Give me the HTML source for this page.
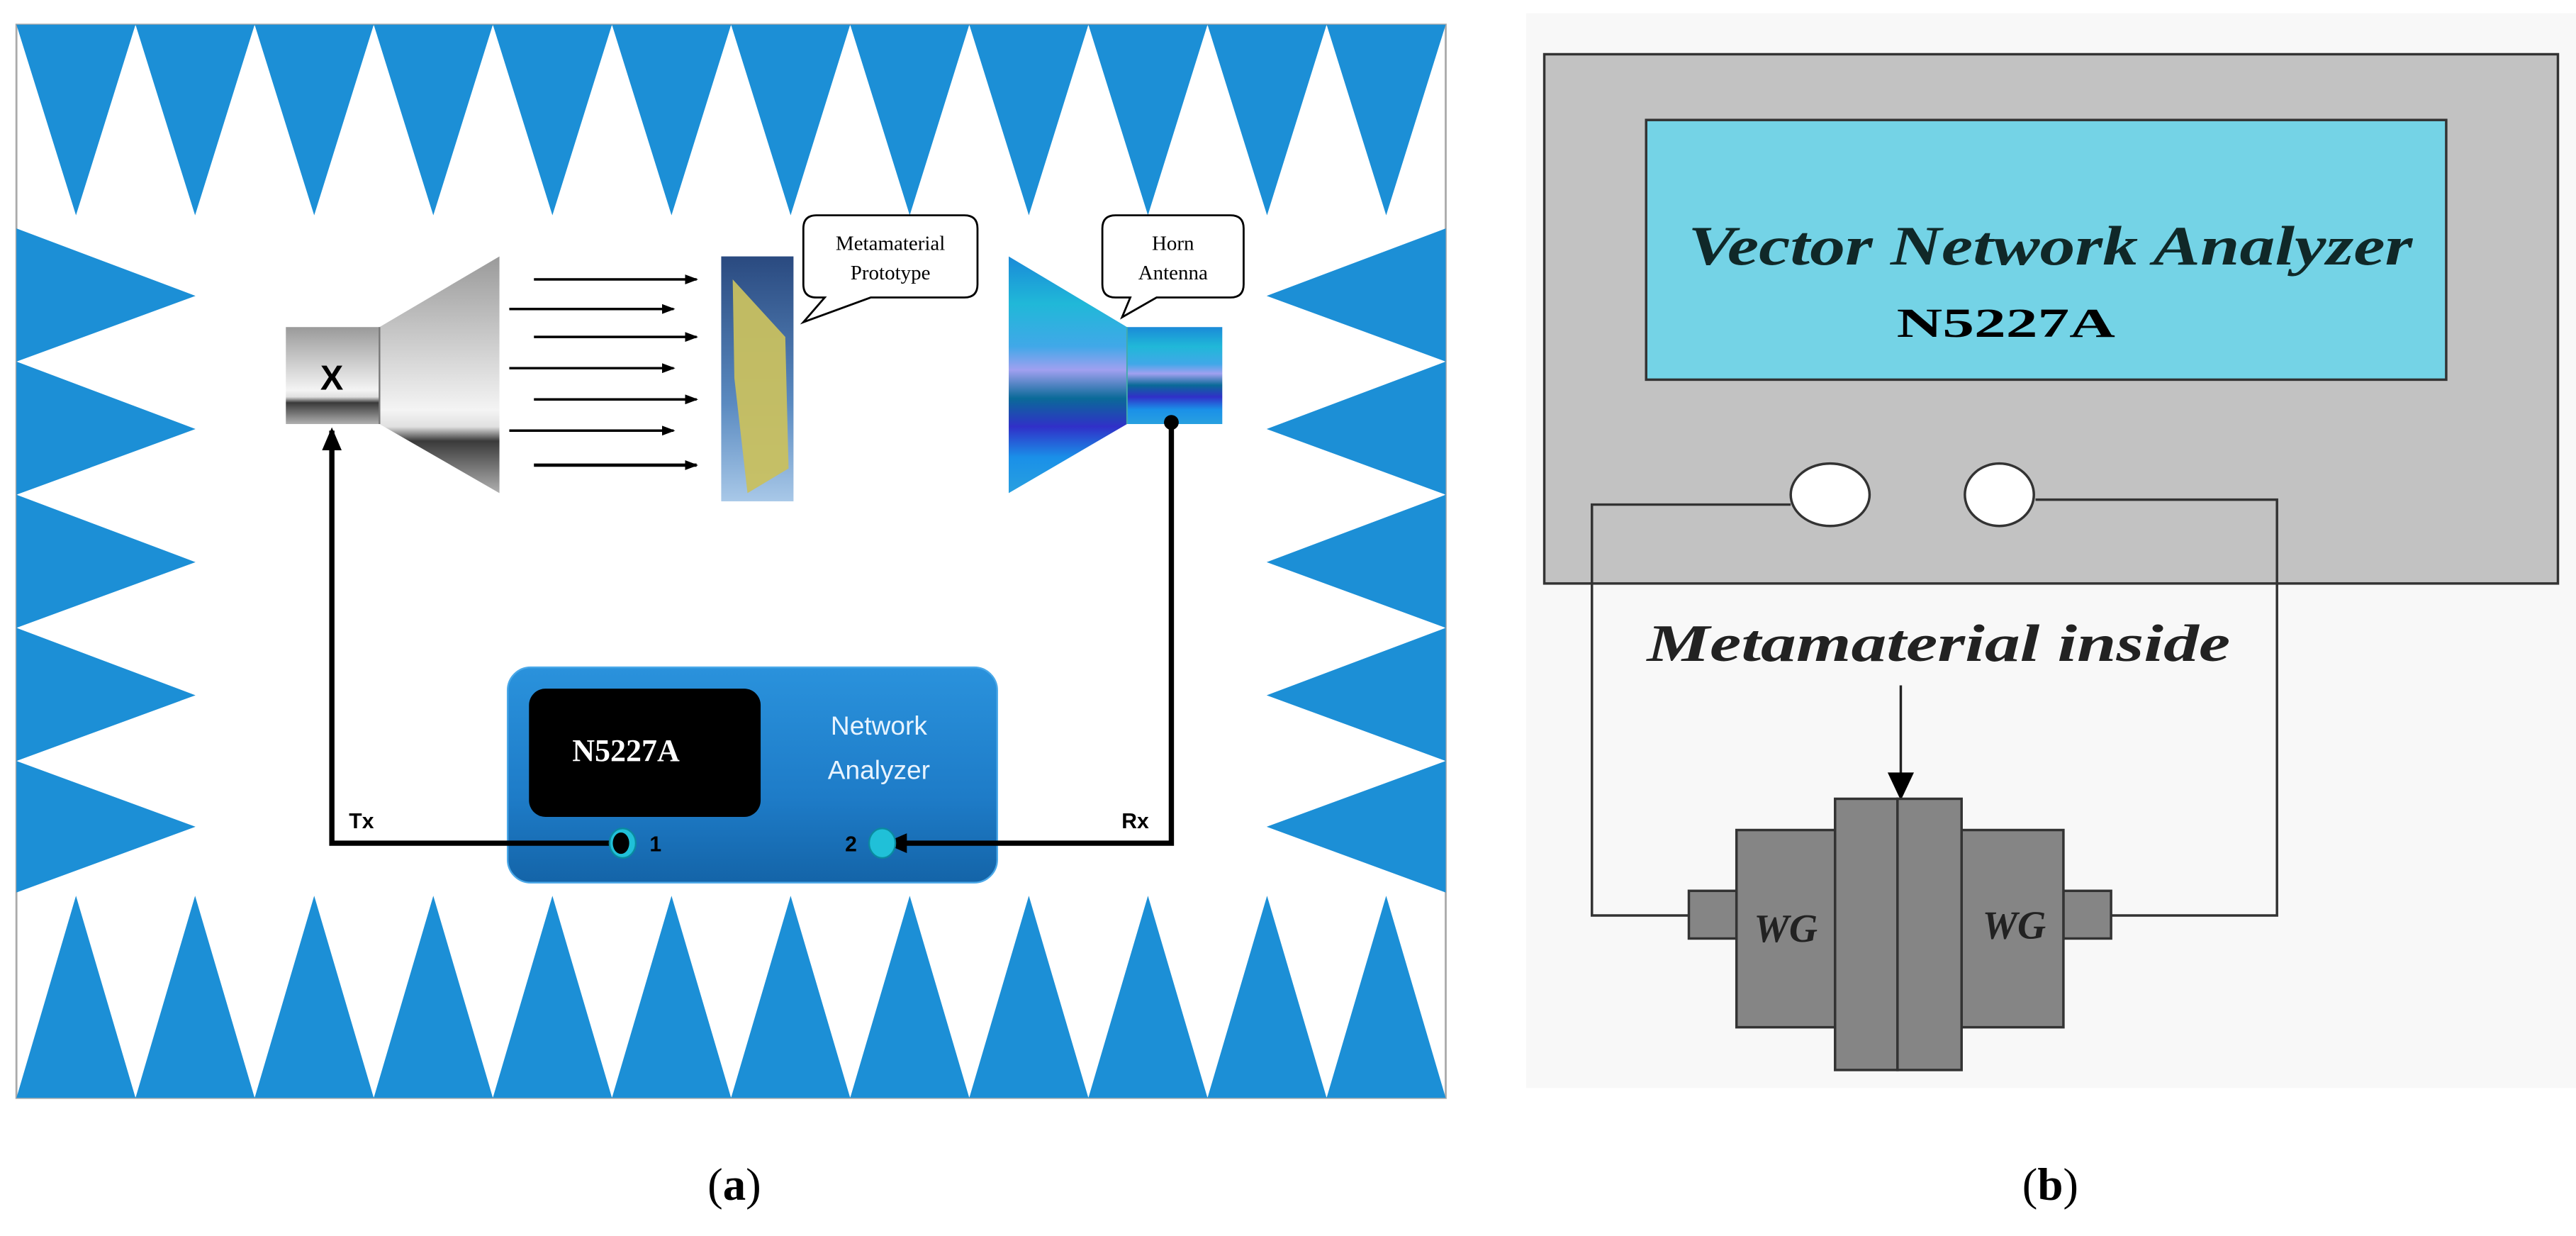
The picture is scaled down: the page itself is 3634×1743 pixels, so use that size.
<!DOCTYPE html>
<html><head><meta charset="utf-8"><style>
html,body{margin:0;padding:0;background:#fff;}
svg{display:block;}
</style></head><body>
<svg width="3634" height="1743" viewBox="0 0 1568 752" preserveAspectRatio="none" xmlns="http://www.w3.org/2000/svg">
<defs>
<linearGradient id="gray" x1="0" y1="0" x2="0" y2="1">
<stop offset="0" stop-color="#9a9a9a"/><stop offset="0.65" stop-color="#f4f4f4"/><stop offset="0.72" stop-color="#e0e0e0"/><stop offset="0.78" stop-color="#3a3a3a"/><stop offset="1" stop-color="#b0b0b0"/>
</linearGradient>
<linearGradient id="blueh" x1="0" y1="0" x2="0" y2="1">
<stop offset="0" stop-color="#1a8ad8"/><stop offset="0.2" stop-color="#20b8d8"/><stop offset="0.38" stop-color="#40a8e8"/><stop offset="0.48" stop-color="#a0a0f0"/><stop offset="0.6" stop-color="#0a6a98"/><stop offset="0.72" stop-color="#3030c8"/><stop offset="0.85" stop-color="#1a90e8"/><stop offset="1" stop-color="#28a0e0"/>
</linearGradient>
<linearGradient id="na" x1="0" y1="0" x2="0" y2="1">
<stop offset="0" stop-color="#2a92dc"/><stop offset="0.6" stop-color="#1e7cc8"/><stop offset="1" stop-color="#1464a8"/>
</linearGradient>
<linearGradient id="meta" x1="0" y1="0" x2="0" y2="1">
<stop offset="0" stop-color="#2a4a80"/><stop offset="0.6" stop-color="#5a8ac0"/><stop offset="1" stop-color="#a8c8e8"/>
</linearGradient>
<marker id="ah" markerWidth="8" markerHeight="6" refX="7" refY="3" orient="auto" markerUnits="userSpaceOnUse"><path d="M0,0 L8,3 L0,6 z" fill="#000"/></marker>
<marker id="ahb" markerWidth="14" markerHeight="12" refX="12" refY="6" orient="auto" markerUnits="userSpaceOnUse"><path d="M0,0 L14,6 L0,12 z" fill="#000"/></marker>
</defs>

<rect x="10" y="15" width="870" height="653" fill="#fff" stroke="#aaa" stroke-width="1.2"/>
<g fill="#1c8fd6">
<path d="M10,15 L82.5,15 L46.25,131z M82.5,15 L155,15 L118.75,131z M155,15 L227.5,15 L191.25,131z M227.5,15 L300,15 L263.75,131z M300,15 L372.5,15 L336.25,131z M372.5,15 L445,15 L408.75,131z M445,15 L517.5,15 L481.25,131z M517.5,15 L590,15 L553.75,131z M590,15 L662.5,15 L626.25,131z M662.5,15 L735,15 L698.75,131z M735,15 L807.5,15 L771.25,131z M807.5,15 L880,15 L843.75,131z"/>
<path d="M10,668 L82.5,668 L46.25,545z M82.5,668 L155,668 L118.75,545z M155,668 L227.5,668 L191.25,545z M227.5,668 L300,668 L263.75,545z M300,668 L372.5,668 L336.25,545z M372.5,668 L445,668 L408.75,545z M445,668 L517.5,668 L481.25,545z M517.5,668 L590,668 L553.75,545z M590,668 L662.5,668 L626.25,545z M662.5,668 L735,668 L698.75,545z M735,668 L807.5,668 L771.25,545z M807.5,668 L880,668 L843.75,545z"/>
<path d="M10,139 L119,180 L10,220z M10,220 L119,261 L10,301z M10,301 L119,342 L10,382z M10,382 L119,423 L10,463z M10,463 L119,503 L10,543z"/>
<path d="M880,139 L771,180 L880,220z M880,220 L771,261 L880,301z M880,301 L771,342 L880,382z M880,382 L771,423 L880,463z M880,463 L771,503 L880,543z"/>
</g>

<rect x="174" y="199" width="57" height="59" fill="url(#gray)"/>
<polygon points="231,199 304,156 304,300 231,258" fill="url(#gray)"/>
<line x1="231" y1="199" x2="231" y2="258" stroke="#777" stroke-width="1"/>
<text x="202" y="237" font-family="Liberation Sans, sans-serif" font-weight="bold" font-size="21" text-anchor="middle" fill="#000">X</text>

<g stroke="#000" stroke-width="1.5" marker-end="url(#ah)">
<line x1="325" y1="170" x2="424" y2="170"/>
<line x1="310" y1="188" x2="410" y2="188"/>
<line x1="325" y1="205" x2="424" y2="205"/>
<line x1="310" y1="224" x2="410" y2="224"/>
<line x1="325" y1="243" x2="424" y2="243"/>
<line x1="310" y1="262" x2="410" y2="262"/>
<line x1="325" y1="283" x2="424" y2="283" stroke-width="2"/>
</g>

<rect x="439" y="156" width="44" height="149" fill="url(#meta)"/>
<polygon points="446,170 478,205 480,285 455,300 447,230" fill="#c8c060" opacity="0.95"/>

<path d="M497,131 H587 Q595,131 595,139 V173 Q595,181 587,181 H530 L489,196 L502,181 H497 Q489,181 489,173 V139 Q489,131 497,131z" fill="#fff" stroke="#000" stroke-width="1.2"/>
<text x="542" y="152" font-family="Liberation Serif, serif" font-size="12.5" text-anchor="middle">Metamaterial</text>
<text x="542" y="170" font-family="Liberation Serif, serif" font-size="12.5" text-anchor="middle">Prototype</text>

<polygon points="614,156 686,199 686,258 614,300" fill="url(#blueh)"/>
<rect x="686" y="199" width="58" height="59" fill="url(#blueh)"/>
<line x1="686" y1="199" x2="686" y2="258" stroke="#4aa" stroke-width="0.8"/>

<path d="M679,131 H749 Q757,131 757,139 V173 Q757,181 749,181 H704 L683,193 L688,181 H679 Q671,181 671,173 V139 Q671,131 679,131z" fill="#fff" stroke="#000" stroke-width="1.2"/>
<text x="714" y="152" font-family="Liberation Serif, serif" font-size="12.5" text-anchor="middle">Horn</text>
<text x="714" y="170" font-family="Liberation Serif, serif" font-size="12.5" text-anchor="middle">Antenna</text>

<rect x="309" y="406" width="298" height="131" rx="14" fill="url(#na)" stroke="#4aa8e8" stroke-width="1"/>
<rect x="322" y="419" width="141" height="78" rx="10" fill="#000"/>
<text x="381" y="463" font-family="Liberation Serif, serif" font-weight="bold" font-size="19" text-anchor="middle" fill="#fff">N5227A</text>
<text x="535" y="447" font-family="Liberation Sans, sans-serif" font-size="16" text-anchor="middle" fill="#e8f4ff">Network</text>
<text x="535" y="474" font-family="Liberation Sans, sans-serif" font-size="16" text-anchor="middle" fill="#e8f4ff">Analyzer</text>

<polyline points="379,513 202,513 202,262" fill="none" stroke="#000" stroke-width="3.2" marker-end="url(#ahb)"/>
<circle cx="713" cy="257" r="4.5" fill="#000"/>
<polyline points="713,257 713,513 540,513" fill="none" stroke="#000" stroke-width="3.2" marker-end="url(#ahb)"/>
<ellipse cx="379" cy="513" rx="8" ry="9" fill="#20c0d8" stroke="#0a8aa0" stroke-width="1"/>
<ellipse cx="378" cy="513" rx="5" ry="6.5" fill="#000"/>
<ellipse cx="537" cy="513" rx="8" ry="9" fill="#20c0d8" stroke="#0a8aa0" stroke-width="1"/>
<text x="399" y="518" font-family="Liberation Sans, sans-serif" font-weight="bold" font-size="13" text-anchor="middle">1</text>
<text x="518" y="518" font-family="Liberation Sans, sans-serif" font-weight="bold" font-size="13" text-anchor="middle">2</text>
<text x="220" y="504" font-family="Liberation Sans, sans-serif" font-weight="bold" font-size="13" text-anchor="middle">Tx</text>
<text x="691" y="504" font-family="Liberation Sans, sans-serif" font-weight="bold" font-size="13" text-anchor="middle">Rx</text>

<text x="447" y="730" font-family="Liberation Serif, serif" font-size="28" text-anchor="middle">(<tspan font-weight="bold">a</tspan>)</text>

<rect x="929" y="8" width="639" height="654" fill="#f8f8f8"/>
<rect x="940" y="33" width="617" height="322" fill="#c2c2c2" stroke="#333" stroke-width="1.5"/>
<rect x="1002" y="73" width="487" height="158" fill="#74d3e6" stroke="#333" stroke-width="1.5"/>
<text x="1248" y="161" font-family="Liberation Serif, serif" font-weight="bold" font-style="italic" font-size="34" text-anchor="middle" textLength="441" lengthAdjust="spacingAndGlyphs" fill="#102828">Vector Network Analyzer</text>
<text x="1221" y="205" font-family="Liberation Serif, serif" font-weight="bold" font-size="25" text-anchor="middle" textLength="133" lengthAdjust="spacingAndGlyphs" fill="#000">N5227A</text>
<polyline points="1090,307 969,307 969,557 1028,557" fill="none" stroke="#333" stroke-width="1.5"/>
<polyline points="1239,304 1386,304 1386,557 1285,557" fill="none" stroke="#333" stroke-width="1.5"/>
<ellipse cx="1114" cy="301" rx="24" ry="19" fill="#fff" stroke="#333" stroke-width="1.5"/>
<ellipse cx="1217" cy="301" rx="21" ry="19" fill="#fff" stroke="#333" stroke-width="1.5"/>
<text x="1180" y="402" font-family="Liberation Serif, serif" font-weight="bold" font-style="italic" font-size="32" text-anchor="middle" textLength="355" lengthAdjust="spacingAndGlyphs" fill="#222">Metamaterial inside</text>
<line x1="1157" y1="417" x2="1157" y2="472" stroke="#222" stroke-width="1.5"/>
<path d="M1149,470 L1165,470 L1157,487z" fill="#000"/>
<g fill="#858585" stroke="#333" stroke-width="1.5">
<rect x="1028" y="542" width="29" height="29"/>
<rect x="1256" y="542" width="29" height="29"/>
<rect x="1057" y="505" width="60" height="120"/>
<rect x="1194" y="505" width="62" height="120"/>
<rect x="1117" y="486" width="38" height="165"/>
<rect x="1155" y="486" width="39" height="165"/>
</g>
<text x="1087" y="573" font-family="Liberation Serif, serif" font-weight="bold" font-style="italic" font-size="24" text-anchor="middle" fill="#222">WG</text>
<text x="1226" y="571" font-family="Liberation Serif, serif" font-weight="bold" font-style="italic" font-size="24" text-anchor="middle" fill="#222">WG</text>
<text x="1248" y="730" font-family="Liberation Serif, serif" font-size="28" text-anchor="middle">(<tspan font-weight="bold">b</tspan>)</text>
</svg>
</body></html>
